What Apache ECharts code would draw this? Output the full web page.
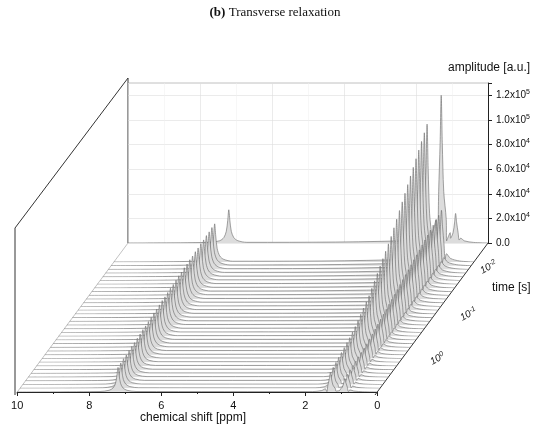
<!DOCTYPE html>
<html>
<head>
<meta charset="utf-8">
<script src="https://cdn.jsdelivr.net/npm/echarts@6/dist/echarts.min.js"></script>
<style>html,body{margin:0;background:#fff}#c{width:550px;height:430px}</style>
</head>
<body>
<div id="c"></div>
<script>
// peak positions (ppm) and line shape
const peakPpm = [7.2, 1.3, 0.9];
const shapeOffsets = [-0.5, -0.25, -0.14, -0.07, -0.03, 0, 0.03, 0.07, 0.14, 0.25, 0.5];
const shapeRel = [0.02, 0.07, 0.16, 0.35, 0.68, 1, 0.68, 0.35, 0.16, 0.07, 0.02];
// peak heights per spectrum, back (10^-2 s) to front
const h72 = [27000, 31000, 31000, 30500, 30500, 30000, 30000, 29500, 29500, 29000, 29000, 28500, 28500, 28000, 28000, 27500, 27000, 27000, 26500, 26000, 26000, 25500, 25000, 25000, 24500, 24000, 23500, 23500, 23000, 22500, 22000, 22000, 21500, 21000, 21000, 20500, 20000];
const h13 = [120000, 112000, 108000, 104000, 100000, 96000, 92000, 88000, 84000, 80000, 76000, 72000, 68000, 64000, 60000, 57000, 54000, 51000, 48000, 45000, 42000, 39000, 36000, 34000, 32000, 30000, 28000, 26000, 24500, 23000, 22000, 21000, 20000, 19000, 18000, 17000, 16000];
const h09 = [24000, 42000, 41000, 40000, 39000, 38000, 37000, 36000, 35000, 34000, 33000, 32000, 31000, 30000, 29000, 28000, 27000, 26000, 25000, 24000, 23000, 22000, 21000, 20000, 19000, 18000, 17000, 16000, 15000, 14500, 14000, 13500, 13000, 12500, 12000, 11500, 11000];
const ampTicks = ['0.0', '2.0x10^4', '4.0x10^4', '6.0x10^4', '8.0x10^4', '1.0x10^5', '1.2x10^5'];
const timeTicks = ['10^-2', '10^-1', '10^0'];

const chart = echarts.init(document.getElementById('c'));
const n = h13.length;
const grids = [], xAxes = [], yAxes = [], series = [];

function rowPos(i) {
  if (i === 0) return { x: 128, y: 243 };
  const y = 262 + (i - 1) * (130 / (n - 2));
  return { x: 15 + 113 * (395 - y) / 152, y: y };
}

for (let i = 0; i < n; i++) {
  const p = rowPos(i);
  const back = i === 0, front = i === n - 1;
  grids.push({ left: p.x, top: p.y - 160, width: 360, height: 160 });
  xAxes.push({
    gridIndex: i, type: 'value', min: 0, max: 10, interval: 2, inverse: true,
    show: back || front,
    axisLine: { show: front, lineStyle: { color: '#222' } },
    axisTick: { show: front, length: 4, lineStyle: { color: '#222' } },
    minorTick: { show: front, splitNumber: 2, length: 2, lineStyle: { color: '#222' } },
    axisLabel: { show: front, color: '#111', fontSize: 11, fontFamily: 'Liberation Sans' },
    splitLine: { show: back, lineStyle: { color: '#ddd', width: 0.6 } },
    minorSplitLine: { show: back, lineStyle: { color: '#eee', width: 0.5 } }
  });
  yAxes.push({
    gridIndex: i, type: 'value', min: 0, max: 130000, interval: 20000,
    position: 'right', show: back,
    axisLine: { show: back, lineStyle: { color: '#222' } },
    axisTick: { show: back, length: 4, lineStyle: { color: '#222' } },
    axisLabel: {
      show: back, color: '#111', fontSize: 10, fontFamily: 'Liberation Sans',
      formatter: v => {
        const t = ampTicks[Math.round(v / 20000)];
        if (!t) return '';
        const parts = t.split('^');
        return parts.length > 1 ? parts[0] + '{s|' + parts[1] + '}' : t;
      },
      rich: { s: { fontSize: 7, verticalAlign: 'top', padding: [0, 0, 6, 0] } }
    },
    splitLine: { show: back, lineStyle: { color: '#ddd', width: 0.6 } }
  });
  const pts = [[10, 0], [0, 0]];
  const hs = [h72[i], h13[i], h09[i]];
  peakPpm.forEach((pp, k) => {
    shapeOffsets.forEach((o, j) => pts.push([pp + o, hs[k] * shapeRel[j]]));
  });
  pts.sort((a, b) => b[0] - a[0]);
  series.push({
    type: 'line', xAxisIndex: i, yAxisIndex: i, data: pts, symbol: 'none',
    z: 2 + i, silent: true, animation: false, smooth: 0.3,
    lineStyle: { color: '#666', width: 0.6 },
    areaStyle: { color: '#dcdcdc', opacity: 1 }
  });
}

function sup(t) {
  const parts = t.split('^');
  return parts[0] + '{s|' + parts[1] + '}';
}
const timePos = [[478, 258], [458, 305], [428, 350]];
const graphic = [
  { type: 'text', left: 'center', top: 6, style: { text: '{b|(b)} Transverse relaxation', fontFamily: 'Liberation Serif', fontSize: 13, fill: '#111', rich: { b: { fontWeight: 'bold', fontFamily: 'Liberation Serif', fontSize: 13 } } } },
  { type: 'text', left: 448, top: 62, style: { text: 'amplitude [a.u.]', fontFamily: 'Liberation Sans', fontSize: 12, fill: '#111' } },
  { type: 'text', left: 492, top: 282, style: { text: 'time [s]', fontFamily: 'Liberation Sans', fontSize: 12, fill: '#111' } },
  { type: 'text', left: 140, top: 412, style: { text: 'chemical shift [ppm]', fontFamily: 'Liberation Sans', fontSize: 12, fill: '#111' } },
  { type: 'polyline', z: 0, shape: { points: [[15, 395], [15, 228], [128, 78], [128, 243]] }, style: { stroke: '#333', fill: 'none', lineWidth: 1 } },
  { type: 'line', z: 0, shape: { x1: 128, y1: 83, x2: 488, y2: 83 }, style: { stroke: '#999', lineWidth: 0.6 } },
  { type: 'line', z: 0, shape: { x1: 128, y1: 243, x2: 15, y2: 395 }, style: { stroke: '#999', lineWidth: 0.6 } },
  { type: 'line', z: 1, shape: { x1: 488, y1: 243, x2: 375, y2: 395 }, style: { stroke: '#333', lineWidth: 1 } }
];
timeTicks.forEach((t, k) => {
  graphic.push({ type: 'text', left: timePos[k][0], top: timePos[k][1], rotation: 0.5, style: { text: sup(t), fontFamily: 'Liberation Sans', fontStyle: 'italic', fontSize: 10, fill: '#111', rich: { s: { fontSize: 7, fontStyle: 'italic', verticalAlign: 'top', padding: [0, 0, 5, 0] } } } });
});

chart.setOption({ animation: false, grid: grids, xAxis: xAxes, yAxis: yAxes, series: series, graphic: graphic });
</script>
</body>
</html>
